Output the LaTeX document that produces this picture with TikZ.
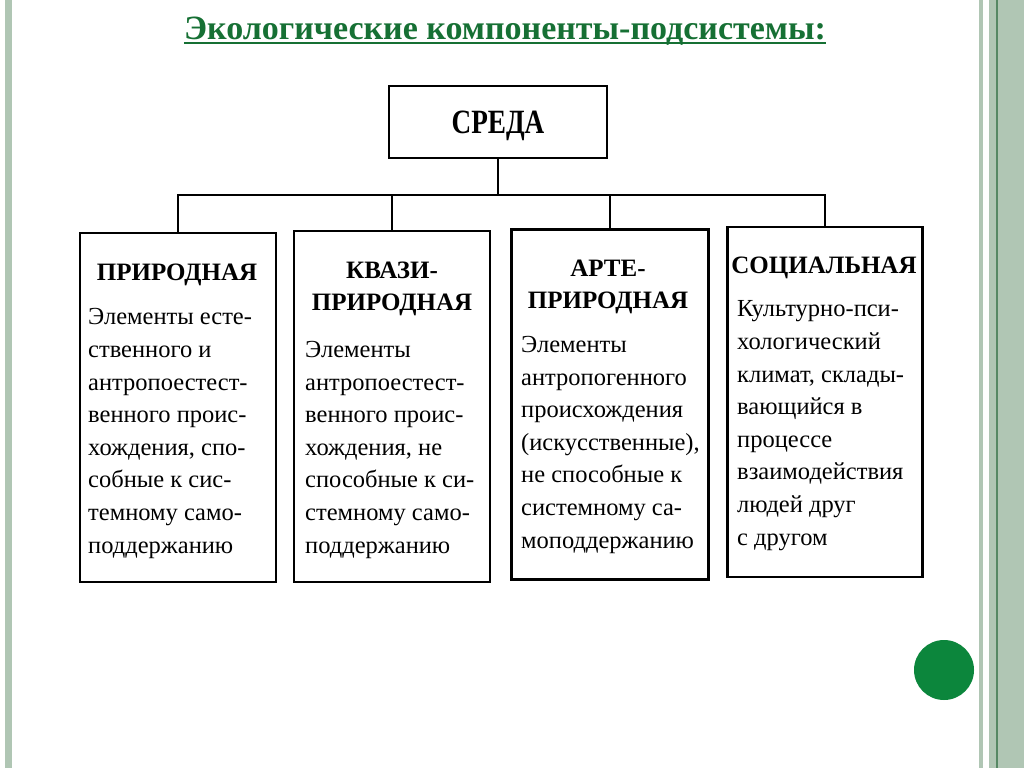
\documentclass[tikz,border=0pt]{standalone}
\usepackage{fontspec}
\setmainfont{Liberation Serif}
\definecolor{titlegreen}{RGB}{22,112,52}
\definecolor{dotgreen}{RGB}{12,134,60}
\definecolor{stripe}{RGB}{176,198,180}
\definecolor{stripedark}{RGB}{86,136,100}
\tikzset{
  box/.style={draw=black, line width=2.6pt, rectangle, inner sep=0pt},
  conn/.style={draw=black, line width=2.2pt},
  head/.style={font=\fontsize{25}{31.5}\selectfont\bfseries, align=center, inner sep=0pt, anchor=base},
  body/.style={font=\fontsize{24.5}{32.6}\selectfont, align=left, inner sep=0pt, anchor=base west},
}
\begin{document}
\begin{tikzpicture}[x=1pt,y=-1pt]
\useasboundingbox (0,0) rectangle (1024,768);
\fill[white] (0,0) rectangle (1024,768);
% side stripes
\fill[stripe] (5,0) rectangle (12,768);
\fill[stripe] (979,0) rectangle (983,768);
\fill[stripe] (989,0) rectangle (1024,768);
\fill[stripedark] (996,0) rectangle (998,768);
% title
\node[font=\fontsize{34}{40}\selectfont\bfseries, text=titlegreen, inner sep=0pt, anchor=base] (title) at (505,40) {Экологические компоненты-подсистемы:};
\draw[titlegreen, line width=2pt] ([yshift=-3.5pt]title.base west) -- ([yshift=-3.5pt]title.base east);
% top box
\node[box, minimum width=218pt, minimum height=72pt] (sreda) at (498,122) {};
\node[font=\fontsize{34}{40}\selectfont\bfseries, inner sep=0pt, anchor=base] (sredatext) at (498,133) {\scalebox{0.8}[1]{СРЕДА}};
% boxes
\node[box, minimum width=196pt, minimum height=349pt] (b1) at (178,407.5) {};
\node[box, minimum width=196pt, minimum height=351pt] (b2) at (392,406.5) {};
\node[box, minimum width=197pt, minimum height=350pt] (b3) at (610,404.5) {};
\node[box, minimum width=195pt, minimum height=350pt] (b4) at (825,402) {};
% connectors
\coordinate (bus) at (498,195);
\draw[conn] (sreda.south) -- (bus);
\draw[conn] (b1.north) |- (bus) -| (b4.north);
\draw[conn] (b2.north) -- (b2.north |- bus);
\draw[conn] (b3.north) -- (b3.north |- bus);
% headings (base = last line)
\node[head] (h1) at (177,280) {ПРИРОДНАЯ};
\node[head] (h2) at (392,310) {КВАЗИ-\\ПРИРОДНАЯ};
\node[head] (h3) at (608,308) {АРТЕ-\\ПРИРОДНАЯ};
\node[head] (h4) at (824,273) {СОЦИАЛЬНАЯ};
% bodies (base = last line)
\node[body] (t1) at (88,553) {Элементы есте-\\ственного и\\антропоестест-\\венного проис-\\хождения, спо-\\собные к сис-\\темному само-\\поддержанию};
\node[body] (t2) at (305,553) {Элементы\\антропоестест-\\венного проис-\\хождения, не\\способные к си-\\стемному само-\\поддержанию};
\node[body] (t3) at (521,548) {Элементы\\антропогенного\\происхождения\\(искусственные),\\не способные к\\системному са-\\моподдержанию};
\node[body] (t4) at (737,545) {Культурно-пси-\\хологический\\климат, склады-\\вающийся в\\процессе\\взаимодействия\\людей друг\\с другом};
% green dot
\fill[dotgreen] (944,670) circle (30);
\end{tikzpicture}
\end{document}
